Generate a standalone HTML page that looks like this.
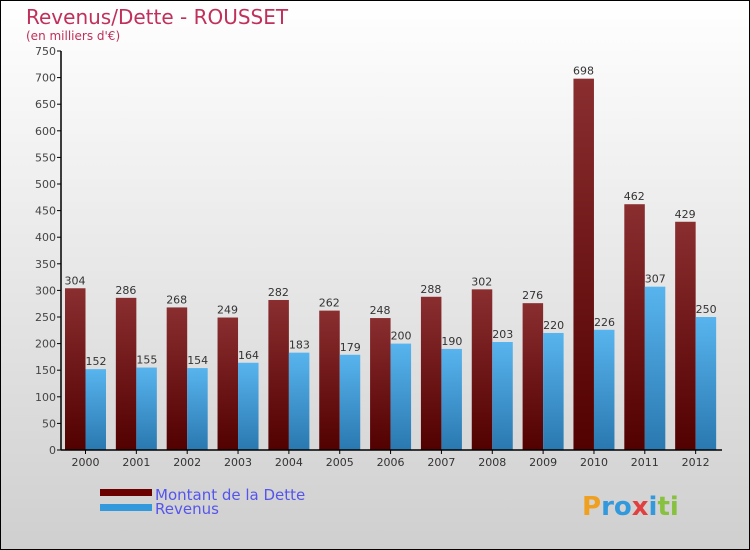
<!DOCTYPE html>
<html><head><meta charset="utf-8"><style>
body{margin:0;}
svg{display:block;font-family:"DejaVu Sans","Liberation Sans",sans-serif;}
</style></head><body>
<svg width="750" height="550" viewBox="0 0 750 550">
<defs>
<linearGradient id="bg" x1="0" y1="0" x2="0" y2="1"><stop offset="0" stop-color="#ffffff"/><stop offset="1" stop-color="#cfcfcf"/></linearGradient>
<linearGradient id="gd" x1="0" y1="0" x2="0" y2="1"><stop offset="0" stop-color="#8a2e30"/><stop offset="1" stop-color="#520000"/></linearGradient>
<linearGradient id="gr" x1="0" y1="0" x2="0" y2="1"><stop offset="0" stop-color="#58b4ee"/><stop offset="1" stop-color="#2a78b0"/></linearGradient>
</defs>
<rect x="0.5" y="0.5" width="749" height="549" fill="url(#bg)" stroke="#000"/>
<text x="26" y="24" font-size="20" fill="#c0305a">Revenus/Dette - ROUSSET</text>
<text x="26" y="40" font-size="12" fill="#c0305a">(en milliers d'€)</text>
<g id="plot"></g>
<rect x="100" y="489" width="52" height="7" fill="#6a0000"/>
<rect x="100" y="504" width="52" height="7" fill="#3399dd"/>
<text x="155" y="500" font-size="15" fill="#5555ee">Montant de la Dette</text>
<text x="155" y="514" font-size="15" fill="#5555ee">Revenus</text>
<text x="582" y="515" font-size="26" font-weight="bold" fill="#3399dd"><tspan fill="#f0a020">P</tspan><tspan fill="#3399dd">ro</tspan><tspan fill="#e04040">x</tspan><tspan fill="#3399dd">i</tspan><tspan fill="#88c040">ti</tspan></text>
</svg>
<script>
const years=["2000","2001","2002","2003","2004","2005","2006","2007","2008","2009","2010","2011","2012"];
const dette=[304,286,268,249,282,262,248,288,302,276,698,462,429];
const revenus=[152,155,154,164,183,179,200,190,203,220,226,307,250];
const yTicks=[0,50,100,150,200,250,300,350,400,450,500,550,600,650,700,750];
const NS="http://www.w3.org/2000/svg";
const g=document.getElementById('plot');
const x0=61,x1=722,yb=450,yt=51,ymax=750;
const gw=(x1-x0)/years.length;
function y(v){return yb-(v/ymax)*(yb-yt);}
function mk(t,a,txt){const e=document.createElementNS(NS,t);for(const k in a)e.setAttribute(k,a[k]);if(txt!==undefined)e.textContent=txt;g.appendChild(e);return e;}
years.forEach((yr,i)=>{
  const gx=x0+i*gw;
  const b1=mk('rect',{x:gx+4,y:y(dette[i]),width:20.5,height:yb-y(dette[i]),fill:'url(#gd)'});
  
  
  const b2=mk('rect',{x:gx+24.5,y:y(revenus[i]),width:20.5,height:yb-y(revenus[i]),fill:'url(#gr)'});
  
  
  const l1=mk('text',{x:gx+14,y:y(dette[i])-4,'font-size':11,fill:'#333','text-anchor':'middle'},dette[i]);
  
  
  const l2=mk('text',{x:gx+35,y:y(revenus[i])-4,'font-size':11,fill:'#333','text-anchor':'middle'},revenus[i]);
  
  
  mk('line',{x1:gx+24.5,x2:gx+24.5,y1:yb,y2:yb+4,stroke:'#000'});
  const xl=mk('text',{x:gx+24.5,y:yb+16,'font-size':11,fill:'#333','text-anchor':'middle'},yr);
  
  
});
yTicks.forEach(v=>{
  mk('line',{x1:x0-4,x2:x0,y1:y(v),y2:y(v),stroke:'#000'});
  const t=mk('text',{x:x0-5,y:y(v)+4,'font-size':11,fill:'#444','text-anchor':'end'},v);
  
  
});
const ax=mk('line',{x1:x0,x2:x0,y1:yt,y2:yb,stroke:'#000','stroke-width':1.5});


const bx=mk('line',{x1:x0,x2:x1,y1:yb,y2:yb,stroke:'#000','stroke-width':1.5});


</script>
</body></html>
